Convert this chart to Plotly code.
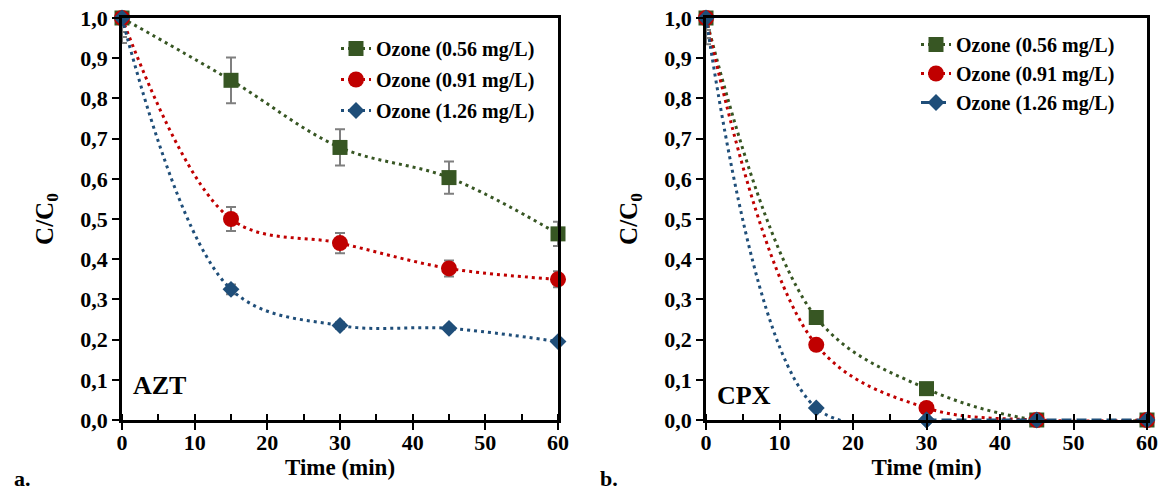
import plotly.graph_objects as go

time = [0, 15, 30, 45, 60]
series_names = ["Ozone (0.56 mg/L)", "Ozone (0.91 mg/L)", "Ozone (1.26 mg/L)"]

azt_056 = [1.0, 0.845, 0.678, 0.603, 0.463]
azt_091 = [1.0, 0.500, 0.440, 0.377, 0.350]
azt_126 = [1.0, 0.325, 0.235, 0.228, 0.195]
azt_056_err = [0.062, 0.057, 0.045, 0.040, 0.030]
azt_091_err = [0.047, 0.030, 0.025, 0.020, 0.020]
azt_126_err = [0.035, 0.012, 0.008, 0.005, 0.003]

cpx_056 = [1.0, 0.255, 0.078, 0.0, 0.0]
cpx_091 = [1.0, 0.187, 0.030, 0.0, 0.0]
cpx_126 = [1.0, 0.030, 0.0, 0.0, 0.0]
cpx_err_t0 = [0.065, 0.05, 0.03]

y_ticks = [0.0, 0.1, 0.2, 0.3, 0.4, 0.5, 0.6, 0.7, 0.8, 0.9, 1.0]
x_ticks = [0, 10, 20, 30, 40, 50, 60]

colors = ["#375623", "#C00000", "#1F4E79"]
symbols = ["square", "circle", "diamond"]
msizes = [15, 16, 13]
FONT = "Liberation Serif"
ERRC = "#7F7F7F"
W, H = 1162, 492

fig = go.Figure()

def add(x, y, i, xa, ya, legend, err_up, err_dn, dash="3px,4px", showleg=True):
    fig.add_trace(go.Scatter(
        x=x, y=y, mode="lines+markers", name=series_names[i],
        xaxis=xa, yaxis=ya, legend=legend, legendgroup=legend + str(i),
        showlegend=showleg,
        line=dict(color=colors[i], width=3, dash=dash, shape="spline", smoothing=1.0),
        marker=dict(symbol=symbols[i], size=msizes[i], color=colors[i]),
        cliponaxis=False,
        error_y=dict(type="data", symmetric=False, array=err_up, arrayminus=err_dn,
                     color=ERRC, thickness=2, width=5) if err_dn is not None else None,
    ))

# AZT panel
azt = [azt_056, azt_091, azt_126]
azt_err = [azt_056_err, azt_091_err, azt_126_err]
for i in range(3):
    up = [0.0] + azt_err[i][1:]
    add(time, azt[i], i, "x", "y", "legend", up, azt_err[i])

# CPX panel
cpx = [cpx_056, cpx_091]
for i in range(2):
    dn = [cpx_err_t0[i], 0, 0, 0, 0]
    add(time, cpx[i], i, "x2", "y2", "legend2", [0]*5, dn)
# blue CPX: dotted decay segment, dashed plateau
add(time[:3], cpx_126[:3], 2, "x2", "y2", "legend2", [0, 0, 0], [cpx_err_t0[2], 0, 0], showleg=False)
add(time[2:], cpx_126[2:], 2, "x2", "y2", "legend2", None, None, dash="10px,5px")
fig.data[-1].update(line=dict(shape="linear"))

TICKF = dict(family=FONT, size=22, color="black", weight="bold")
axis_common = dict(
    showline=True, linewidth=2.5, linecolor="black", mirror=True, automargin=False,
    showgrid=False, zeroline=False, ticks="outside", ticklen=7, tickwidth=2,
    tickcolor="black", tickfont=TICKF, ticklabeloverflow="allow",
)
xaxis_cfg = dict(axis_common, range=[0, 60], tickvals=x_ticks, ticklabelstandoff=-6,
                 minor=dict(ticks="inside", dtick=5, tick0=0, ticklen=6, tickwidth=2, tickcolor="black"),
                 title=dict(text="Time (min)", font=dict(family=FONT, size=23, color="black", weight="bold"), standoff=0))
yaxis_cfg = dict(axis_common, range=[0, 1.0], tickvals=y_ticks, tickformat=".1f",
                 title=dict(text="C/C<sub>0</sub>", font=dict(family=FONT, size=25, color="black", weight="bold"), standoff=20))

def px(xp):
    return xp / W

def py(yp):
    return 1 - yp / H

ydom = [py(420), py(18)]
LEGF = dict(family=FONT, size=20, color="black", weight="bold")
fig.update_layout(
    width=W, height=H, margin=dict(l=0, r=0, t=0, b=0),
    paper_bgcolor="white", plot_bgcolor="white", separators=", ",
    font=dict(family=FONT, color="black", weight="bold"),
    xaxis=dict(xaxis_cfg, domain=[px(122), px(558)], anchor="y"),
    yaxis=dict(yaxis_cfg, domain=ydom, anchor="x"),
    xaxis2=dict(xaxis_cfg, domain=[px(706), px(1147)], anchor="y2"),
    yaxis2=dict(yaxis_cfg, domain=ydom, anchor="x2"),
    legend=dict(x=px(336), y=py(29), xanchor="left", yanchor="top",
                bgcolor="rgba(0,0,0,0)", tracegroupgap=2, font=LEGF),
    legend2=dict(x=px(916), y=py(25), xanchor="left", yanchor="top",
                 bgcolor="rgba(0,0,0,0)", tracegroupgap=0, font=LEGF),
    showlegend=True,
)

annots = [
    dict(text="AZT", x=0.02, y=0.045, xref="x domain", yref="y domain"),
    dict(text="CPX", x=0.02, y=0.02, xref="x2 domain", yref="y2 domain"),
]
for a in annots:
    fig.add_annotation(text=a["text"], x=a["x"], y=a["y"], xref=a["xref"], yref=a["yref"],
                       xanchor="left", yanchor="bottom", showarrow=False,
                       font=dict(family=FONT, size=26, color="black", weight="bold"))
for txt, xp in (("a.", 12), ("b.", 598)):
    fig.add_annotation(text=txt, x=px(xp), y=py(478), xref="paper", yref="paper",
                       xanchor="left", yanchor="middle", showarrow=False,
                       font=dict(family=FONT, size=22, color="black", weight="bold"))

fig.write_html("out.html", config={"displayModeBar": False},
               post_script="document.body.style.margin='0';document.body.style.overflow='hidden';")
